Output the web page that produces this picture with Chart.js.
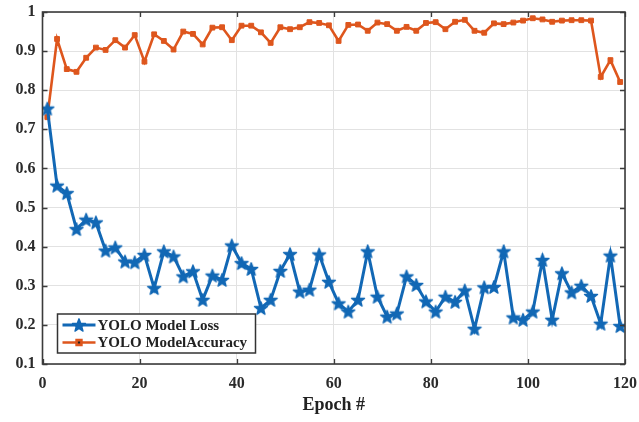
<!DOCTYPE html>
<html>
<head>
<meta charset="utf-8">
<script src="https://cdn.jsdelivr.net/npm/chart.js@4.4.0/dist/chart.umd.min.js"></script>
<style>
  html, body { margin: 0; padding: 0; background: #fff; }
  #wrap { width: 639px; height: 422px; }
</style>
</head>
<body>
<div id="wrap"><canvas id="line-chart" width="639" height="422"></canvas></div>
<script>
// epochs where the values were logged
var epochs = [1, 3, 5, 7, 9, 11, 13, 15, 17, 19, 21, 23, 25, 27, 29, 31, 33, 35, 37, 39,
              41, 43, 45, 47, 49, 51, 53, 55, 57, 59, 61, 63, 65, 67, 69, 71, 73, 75, 77, 79,
              81, 83, 85, 87, 89, 91, 93, 95, 97, 99, 101, 103, 105, 107, 109, 111, 113, 115, 117, 119];

var lossData = [0.753, 0.556, 0.537, 0.445, 0.469, 0.462, 0.390, 0.398, 0.362, 0.360,
                0.379, 0.294, 0.388, 0.375, 0.324, 0.337, 0.264, 0.326, 0.315, 0.403,
                0.358, 0.343, 0.243, 0.264, 0.338, 0.381, 0.285, 0.290, 0.380, 0.310,
                0.255, 0.234, 0.264, 0.388, 0.272, 0.221, 0.229, 0.324, 0.302, 0.260,
                0.234, 0.272, 0.259, 0.288, 0.190, 0.296, 0.297, 0.388, 0.219, 0.213,
                0.234, 0.366, 0.213, 0.332, 0.283, 0.300, 0.274, 0.203, 0.377, 0.197];

var accData = [0.731, 0.931, 0.854, 0.847, 0.883, 0.909, 0.903, 0.928, 0.909, 0.941,
               0.873, 0.943, 0.926, 0.904, 0.950, 0.944, 0.917, 0.960, 0.961, 0.928,
               0.965, 0.965, 0.948, 0.921, 0.961, 0.956, 0.961, 0.974, 0.972, 0.966,
               0.926, 0.967, 0.968, 0.952, 0.973, 0.969, 0.952, 0.962, 0.952, 0.972,
               0.974, 0.956, 0.975, 0.980, 0.952, 0.947, 0.971, 0.969, 0.973, 0.978,
               0.984, 0.981, 0.975, 0.978, 0.979, 0.979, 0.978, 0.834, 0.877, 0.821];

var xTicks = [0, 20, 40, 60, 80, 100, 120];
var yTicks = [0.1, 0.2, 0.3, 0.4, 0.5, 0.6, 0.7, 0.8, 0.9, 1];

var seriesLabels = ["YOLO Model Loss", "YOLO ModelAccuracy"];

var BLUE = '#1268b5';
var ORANGE = '#de561d';
var FONT = '"Liberation Serif", "Times New Roman", serif';

// pentagram marker (canvas image used as pointStyle)
function makeStar(size, color) {
    var c = document.createElement('canvas');
    c.width = size;
    c.height = size;
    var g = c.getContext('2d');
    var cx = size / 2, cy = size / 2 + 0.6;
    var R = size / 2 - 1.2, r = R * 0.42;
    g.beginPath();
    for (var k = 0; k < 10; k++) {
        var rad = k % 2 ? r : R;
        var a = -Math.PI / 2 + k * Math.PI / 5;
        g.lineTo(cx + rad * Math.cos(a), cy + rad * Math.sin(a));
    }
    g.closePath();
    g.fillStyle = color;
    g.fill();
    g.lineWidth = 1.4;
    g.lineJoin = 'round';
    g.strokeStyle = color;
    g.stroke();
    return c;
}

var starImg = makeStar(16, BLUE);

function toPoints(ys) {
    return epochs.map(function (x, i) { return { x: x, y: ys[i] }; });
}

// box round the plot, inward tick marks and the legend inside the axes
var matlabFrame = {
    id: 'matlabFrame',
    afterDatasetsDraw: function (chart) {
        var ctx = chart.ctx;
        var a = chart.chartArea;
        var xs = chart.scales.x, ys = chart.scales.y;
        ctx.save();
        ctx.strokeStyle = '#3b3b3b';
        ctx.lineWidth = 1.3;
        ctx.beginPath();
        xTicks.forEach(function (v) {
            var px = Math.round(xs.getPixelForValue(v)) + 0.5;
            ctx.moveTo(px, a.bottom); ctx.lineTo(px, a.bottom - 5);
            ctx.moveTo(px, a.top); ctx.lineTo(px, a.top + 5);
        });
        yTicks.forEach(function (v) {
            var py = Math.round(ys.getPixelForValue(v)) + 0.5;
            ctx.moveTo(a.left, py); ctx.lineTo(a.left + 5, py);
            ctx.moveTo(a.right, py); ctx.lineTo(a.right - 5, py);
        });
        ctx.stroke();
        ctx.lineWidth = 1.6;
        ctx.strokeRect(a.left, a.top, a.right - a.left, a.bottom - a.top);

        // legend
        var lx = a.left + 15, ly = a.bottom - 50;
        ctx.fillStyle = '#fff';
        ctx.fillRect(lx, ly, 198, 39);
        ctx.lineWidth = 1.5;
        ctx.strokeStyle = '#333';
        ctx.strokeRect(lx, ly, 198, 39);
        chart.data.datasets.forEach(function (ds, i) {
            var yy = ly + 11 + i * 17.5;
            ctx.strokeStyle = ds.borderColor;
            ctx.lineWidth = ds.borderWidth;
            ctx.beginPath();
            ctx.moveTo(lx + 5, yy);
            ctx.lineTo(lx + 38, yy);
            ctx.stroke();
            Chart.helpers.drawPoint(ctx, {
                pointStyle: ds.pointStyle,
                radius: ds.pointRadius,
                borderWidth: ds.pointBorderWidth,
                rotation: 0
            }, lx + 21.5, yy);
            ctx.fillStyle = '#222';
            ctx.font = 'bold 15px ' + FONT;
            ctx.textBaseline = 'middle';
            ctx.textAlign = 'left';
            ctx.fillText(ds.label, lx + 40, yy + 1);
        });
        ctx.restore();
    }
};

var ctx = document.getElementById('line-chart');
var myLineChart = new Chart(ctx, {
    type: 'line',
    data: {
        datasets: [
            {
                label: seriesLabels[0],
                data: toPoints(lossData),
                borderColor: BLUE,
                backgroundColor: BLUE,
                borderWidth: 3,
                pointStyle: starImg,
                pointRadius: 7,
                pointBorderWidth: 1,
                tension: 0
            },
            {
                label: seriesLabels[1],
                data: toPoints(accData),
                borderColor: ORANGE,
                backgroundColor: ORANGE,
                borderWidth: 2.6,
                pointStyle: 'rect',
                pointRadius: 3.4,
                pointBorderWidth: 1,
                pointBorderColor: ORANGE,
                pointBackgroundColor: ORANGE,
                tension: 0
            }
        ]
    },
    options: {
        responsive: false,
        animation: false,
        devicePixelRatio: 1,
        layout: { padding: { left: 0, right: 14, top: 12, bottom: 0 } },
        plugins: {
            legend: { display: false },
            tooltip: { enabled: false }
        },
        scales: {
            x: {
                type: 'linear',
                min: 0,
                max: 120,
                afterBuildTicks: function (scale) {
                    scale.ticks = xTicks.map(function (v) { return { value: v }; });
                },
                afterFit: function (scale) {
                    scale.height = 58;
                    scale.paddingLeft = 0;
                    scale.paddingRight = 0;
                },
                ticks: {
                    color: '#2b2b2b',
                    font: { family: FONT, size: 16, weight: 'bold' },
                    padding: 10,
                    maxRotation: 0
                },
                grid: { color: '#e2e2e2', lineWidth: 1, drawTicks: false },
                border: { display: false },
                title: {
                    display: true,
                    text: 'Epoch #',
                    color: '#222',
                    font: { family: FONT, size: 18, weight: 'bold' },
                    padding: { top: 0, bottom: 6 }
                }
            },
            y: {
                min: 0.1,
                max: 1,
                afterBuildTicks: function (scale) {
                    scale.ticks = yTicks.map(function (v) { return { value: v }; });
                },
                afterFit: function (scale) {
                    scale.width = 42.5;
                    scale.paddingTop = 0;
                    scale.paddingBottom = 0;
                },
                ticks: {
                    color: '#2b2b2b',
                    font: { family: FONT, size: 16, weight: 'bold' },
                    padding: 7,
                    callback: function (v) { return v === 1 ? '1' : v.toFixed(1); }
                },
                grid: { color: '#e2e2e2', lineWidth: 1, drawTicks: false },
                border: { display: false }
            }
        }
    },
    plugins: [matlabFrame]
});
</script>
</body>
</html>
